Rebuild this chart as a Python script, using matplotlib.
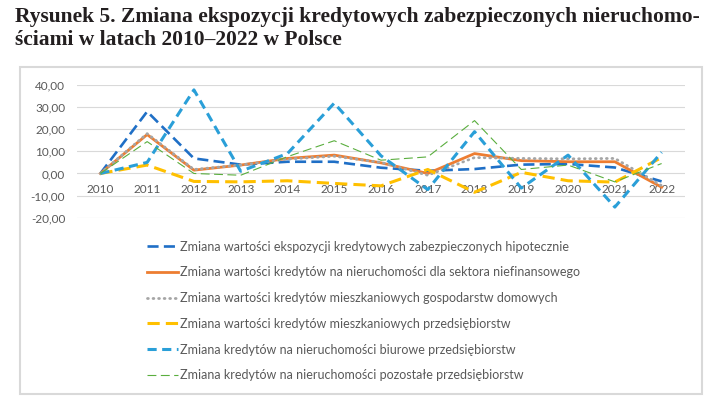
import matplotlib
matplotlib.use('Agg')
import matplotlib.pyplot as plt
from matplotlib.patches import Rectangle
from matplotlib.ticker import FuncFormatter

years = list(range(2010, 2023))
hipoteczne = [0, 28.0, 6.8, 4.0, 5.3, 5.3, 2.6, 1.2, 2.0, 4.0, 4.3, 2.7, -3.6]
niefinansowe = [0, 17.6, 1.5, 3.8, 6.8, 8.3, 4.8, 0.0, 9.0, 5.8, 5.3, 5.3, -6.2]
gosp_domowe = [0, 18.0, 1.8, 3.8, 6.5, 7.8, 5.0, -0.8, 7.2, 6.8, 6.6, 6.8, -5.5]
mieszk_przeds = [0, 3.8, -3.6, -3.8, -3.3, -4.5, -5.6, 1.8, -8.5, 0.5, -3.3, -3.9, 7.2]
biurowe = [0, 5.0, 37.8, 1.0, 9.0, 31.8, 8.0, -7.3, 18.9, -6.6, 8.3, -15.2, 9.6]
pozostale = [0, 14.4, 0.0, -0.8, 7.6, 14.8, 6.0, 7.5, 23.9, 1.8, 3.8, -3.8, 4.5]

labels = [
    'Zmiana wartości ekspozycji kredytowych zabezpieczonych hipotecznie',
    'Zmiana wartości kredytów na nieruchomości dla sektora niefinansowego',
    'Zmiana wartości kredytów mieszkaniowych gospodarstw domowych',
    'Zmiana wartości kredytów mieszkaniowych przedsiębiorstw',
    'Zmiana kredytów na nieruchomości biurowe przedsiębiorstw',
    'Zmiana kredytów na nieruchomości pozostałe przedsiębiorstw',
]
title = ('Rysunek 5. Zmiana ekspozycji kredytowych zabezpieczonych nieruchomo-\n'
         'ściami w latach 2010–2022 w Polsce')

grey_txt = '#595959'
plt.rcParams['font.family'] = ['Lato', 'DejaVu Sans']

fig = plt.figure(figsize=(7.13, 3.96), dpi=100)
ax = fig.add_axes([77/713, 1 - 217.7/396, 608/713, 132.7/396])

ax.plot(years, hipoteczne, color='#1f6fc6', lw=1.9, dashes=(4.2, 2.0), label=labels[0])
ax.plot(years, niefinansowe, color='#ed7d31', lw=2.0, label=labels[1])
ax.plot(years, gosp_domowe, color='#a5a5a5', lw=2.0, dashes=(0.3, 1.7),
        dash_capstyle='round', label=labels[2])
ax.plot(years, mieszk_przeds, color='#ffc000', lw=2.2, dashes=(4.0, 2.0), label=labels[3])
ax.plot(years, biurowe, color='#2a9fd8', lw=2.2, dashes=(3.0, 1.8), label=labels[4])
ax.plot(years, pozostale, color='#5aae3e', lw=0.8, dashes=(8, 4), label=labels[5])

ax.set_xlim(2009.5, 2022.5)
ax.set_ylim(-20, 40)
ax.set_yticks(range(-20, 41, 10))
ax.yaxis.set_major_formatter(FuncFormatter(lambda v, p: f'{v:.2f}'.replace('.', ',')))
ax.set_xticks(years)
ax.grid(axis='y', color='#d9d9d9', lw=0.8)
ax.set_axisbelow(True)
for s in ax.spines.values():
    s.set_visible(False)
ax.spines['bottom'].set_position(('data', 0))
ax.tick_params(axis='x', length=0, pad=7.5, labelsize=8.5, labelcolor=grey_txt)
ax.tick_params(axis='y', length=0, pad=8.5, labelsize=8.5, labelcolor=grey_txt)

fig.legend(loc='upper left', bbox_to_anchor=(146.7/713, 1 - 240.5/396), frameon=False,
           fontsize=9, labelcolor=grey_txt, handlelength=2.5, handletextpad=0.15,
           labelspacing=1.1, borderpad=0, borderaxespad=0)

fig.patches.append(Rectangle((20/713, 2/396), 681.7/713, 327/396, transform=fig.transFigure,
                             fill=False, edgecolor='#d9d9d9', lw=1.5))

fig.text(15/713, 1 - 7/396, title, ha='left', va='top', family='Liberation Serif',
         fontweight='bold', fontsize=15.5, color='#231f20', linespacing=1.2)

fig.savefig('out.png', dpi=100)
